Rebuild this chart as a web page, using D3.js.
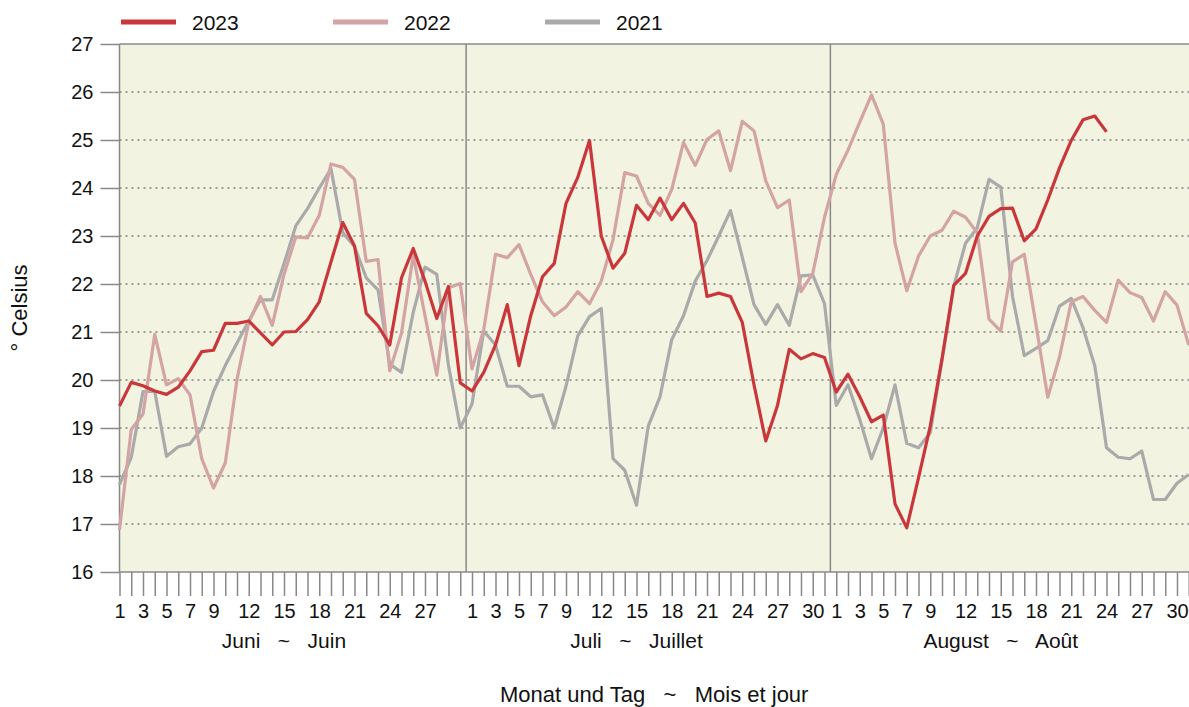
<!DOCTYPE html>
<html>
<head>
<meta charset="utf-8">
<script src="https://cdn.jsdelivr.net/npm/d3@7"></script>
<style>
  html, body { margin: 0; padding: 0; background: #fff; }
  text { font-family: "Liberation Sans", Arial, sans-serif; fill: #111; }
</style>
</head>
<body>
<svg id="chart" width="1189" height="707"></svg>
<script>
// Day index 0 = 1 June ... 91 = 31 August
const months = [
  { de: "Juni", fr: "Juin", start: 0, days: 30 },
  { de: "Juli", fr: "Juillet", start: 30, days: 31 },
  { de: "August", fr: "Août", start: 61, days: 31 }
];
const labeledDaysJune = [1, 3, 5, 7, 9, 12, 15, 18, 21, 24, 27];
const labeledDaysJuly = [1, 3, 5, 7, 9, 12, 15, 18, 21, 24, 27, 30];
const labeledDaysAug = [1, 3, 5, 7, 9, 12, 15, 18, 21, 24, 27, 30];
const labeledDays = [labeledDaysJune, labeledDaysJuly, labeledDaysAug];
const yTicks = [16, 17, 18, 19, 20, 21, 22, 23, 24, 25, 26, 27];
const seriesNames = ["2023", "2022", "2021"];
const seriesColors = ["#c9373b", "#d4a3a3", "#aaaaaa"];

const values2023 = [
  19.46, 19.95, 19.88, 19.77, 19.70, 19.85, 20.19, 20.59, 20.62, 21.18,
  21.18, 21.23, 20.98, 20.73, 21.00, 21.01, 21.26, 21.63, 22.46, 23.28,
  22.79, 21.39, 21.13, 20.73, 22.13, 22.74, 22.06, 21.28, 21.95, 19.94,
  19.77, 20.16, 20.73, 21.57, 20.30, 21.34, 22.15, 22.43, 23.68, 24.22,
  24.99, 23.00, 22.33, 22.64, 23.64, 23.34, 23.79, 23.34, 23.68, 23.27,
  21.74, 21.81, 21.74, 21.20, 19.90, 18.73, 19.47, 20.64, 20.44, 20.55,
  20.47, 19.75, 20.12, 19.65, 19.13, 19.27, 17.42, 16.92, 17.96, 19.04,
  20.44, 21.97, 22.22, 23.00, 23.41, 23.57, 23.58, 22.90, 23.15, 23.75,
  24.42, 24.99, 25.42, 25.50, 25.17
];
const values2022 = [
  16.88, 18.97, 19.29, 20.95, 19.90, 20.03, 19.69, 18.36, 17.75, 18.27,
  20.01, 21.20, 21.74, 21.14, 22.20, 22.98, 22.96, 23.43, 24.50, 24.43,
  24.18, 22.47, 22.51, 20.19, 20.98, 22.60, 21.34, 20.10, 21.92, 22.01,
  20.23, 21.05, 22.62, 22.55, 22.82, 22.20, 21.63, 21.34, 21.52, 21.84,
  21.59, 22.06, 22.92, 24.32, 24.25, 23.68, 23.43, 23.97, 24.95, 24.47,
  25.01, 25.19, 24.36, 25.39, 25.19, 24.15, 23.59, 23.75, 21.84, 22.22,
  23.39, 24.28, 24.79, 25.37, 25.94, 25.33, 22.85, 21.86, 22.58, 23.00,
  23.12, 23.52, 23.39, 23.07, 21.27, 21.02, 22.46, 22.62, 21.15, 19.64,
  20.48, 21.63, 21.74, 21.45, 21.20, 22.08, 21.82, 21.72, 21.23, 21.84,
  21.56, 20.73
];
const values2021 = [
  17.82, 18.39, 19.76, 19.76, 18.41, 18.61, 18.67, 19.00, 19.76, 20.30,
  20.77, 21.23, 21.67, 21.67, 22.42, 23.21, 23.57, 24.00, 24.40, 23.07,
  22.78, 22.13, 21.88, 20.33, 20.16, 21.41, 22.35, 22.20, 20.30, 19.00,
  19.50, 21.02, 20.73, 19.87, 19.87, 19.65, 19.69, 19.00, 19.87, 20.92,
  21.32, 21.49, 18.36, 18.12, 17.39, 19.04, 19.65, 20.84, 21.34, 22.06,
  22.49, 23.00, 23.53, 22.56, 21.57, 21.16, 21.57, 21.14, 22.17, 22.19,
  21.59, 19.47, 19.90, 19.18, 18.36, 19.00, 19.90, 18.68, 18.59, 18.90,
  20.41, 21.95, 22.85, 23.17, 24.18, 24.02, 21.74, 20.51, 20.66, 20.82,
  21.54, 21.70, 21.09, 20.30, 18.59, 18.39, 18.36, 18.52, 17.51, 17.51,
  17.85, 18.03
];
const allSeries = [values2023, values2022, values2021];

const svg = d3.select("#chart");
const W = 1189, H = 707;
const FONT = "'Liberation Sans', Arial, sans-serif";

const x = d3.scaleLinear().domain([0, 91]).range([119.5, W - 0.25]);
const y = d3.scaleLinear().domain([16, 27]).range([572, 44]);

// Plot background
svg.append("rect")
  .attr("x", x(0)).attr("y", y(27))
  .attr("width", x(91) - x(0) + 1).attr("height", y(16) - y(27))
  .attr("fill", "#f3f3e2");

// Gridlines (dotted)
svg.append("g").selectAll("line")
  .data(yTicks.filter(d => d > 16 && d < 27))
  .join("line")
  .attr("x1", x(0)).attr("x2", W)
  .attr("y1", d => y(d)).attr("y2", d => y(d))
  .attr("stroke", "#808080").attr("stroke-width", 1.6)
  .attr("stroke-dasharray", "2,4");

// Month separators
svg.append("g").selectAll("line")
  .data(months.slice(1))
  .join("line")
  .attr("x1", d => x(d.start - 0.5)).attr("x2", d => x(d.start - 0.5))
  .attr("y1", y(27)).attr("y2", y(16))
  .attr("stroke", "#888").attr("stroke-width", 1.5);

// Plot frame (top, left)
svg.append("line").attr("x1", x(0)).attr("x2", W).attr("y1", y(27)).attr("y2", y(27))
  .attr("stroke", "#888").attr("stroke-width", 1.5);
svg.append("line").attr("x1", x(0)).attr("x2", x(0)).attr("y1", y(27)).attr("y2", y(16))
  .attr("stroke", "#888").attr("stroke-width", 1.5);

// Y axis
const yAxis = d3.axisLeft(y).tickValues(yTicks).tickSize(19).tickPadding(7).tickFormat(d3.format("d"));
const gy = svg.append("g").attr("transform", `translate(${x(0)},0)`).call(yAxis);
gy.select(".domain").remove();
gy.selectAll(".tick line").attr("stroke", "#888").attr("stroke-width", 1.5);
gy.selectAll(".tick text").style("font-size", "20px").attr("fill", "#111").style("font-family", FONT);

// X axis: one tick per day
const dayIdx = d3.range(0, 92);
function monthIndex(i) {
  return months.findIndex(mm => i >= mm.start && i < mm.start + mm.days);
}
function dayOfMonth(i) {
  return i - months[monthIndex(i)].start + 1;
}
const xAxis = d3.axisBottom(x).tickValues(dayIdx).tickSize(24).tickPadding(8)
  .tickFormat(i => labeledDays[monthIndex(i)].includes(dayOfMonth(i)) ? String(dayOfMonth(i)) : "");
const gx = svg.append("g").attr("transform", `translate(0,${y(16)})`).call(xAxis);
gx.select(".domain").remove();
gx.selectAll(".tick line").attr("stroke", "#888").attr("stroke-width", 1.5);
gx.selectAll(".tick text").style("font-size", "20px").attr("fill", "#111").style("font-family", FONT);
svg.append("line").attr("x1", x(0)).attr("x2", W).attr("y1", y(16)).attr("y2", y(16))
  .attr("stroke", "#888").attr("stroke-width", 1.5);

// Month labels
svg.append("g").selectAll("text")
  .data(months)
  .join("text")
  .attr("x", d => x(d.start + 14))
  .attr("y", 648)
  .attr("text-anchor", "middle")
  .style("font-size", "21px")
  .style("white-space", "pre")
  .text(d => `${d.de}   ~   ${d.fr}`);

// Axis titles
svg.append("text")
  .attr("x", (x(0) + W) / 2).attr("y", 702)
  .attr("text-anchor", "middle")
  .style("font-size", "22px")
  .style("white-space", "pre")
  .text("Monat und Tag   ~   Mois et jour");

svg.append("text")
  .attr("transform", `translate(27,308) rotate(-90)`)
  .attr("text-anchor", "middle")
  .style("font-size", "22px")
  .text("° Celsius");

// Lines (draw 2021, 2022, then 2023 on top)
const line = d3.line().x((d, i) => x(i)).y(d => y(d));
const order = [2, 1, 0];
svg.append("g").selectAll("path")
  .data(order)
  .join("path")
  .attr("d", k => line(allSeries[k]))
  .attr("fill", "none")
  .attr("stroke", k => seriesColors[k])
  .attr("stroke-width", 3.2)
  .attr("stroke-linejoin", "round");

// Legend
const legendX = [121, 333, 545];
const lg = svg.append("g").selectAll("g")
  .data(seriesNames)
  .join("g")
  .attr("transform", (d, i) => `translate(${legendX[i]},22)`);
lg.append("line").attr("x1", 0).attr("x2", 55).attr("y1", 0).attr("y2", 0)
  .attr("stroke", (d, i) => seriesColors[i]).attr("stroke-width", 5);
lg.append("text").attr("x", 71).attr("y", 8)
  .style("font-size", "21px")
  .text(d => d);
</script>
</body>
</html>
